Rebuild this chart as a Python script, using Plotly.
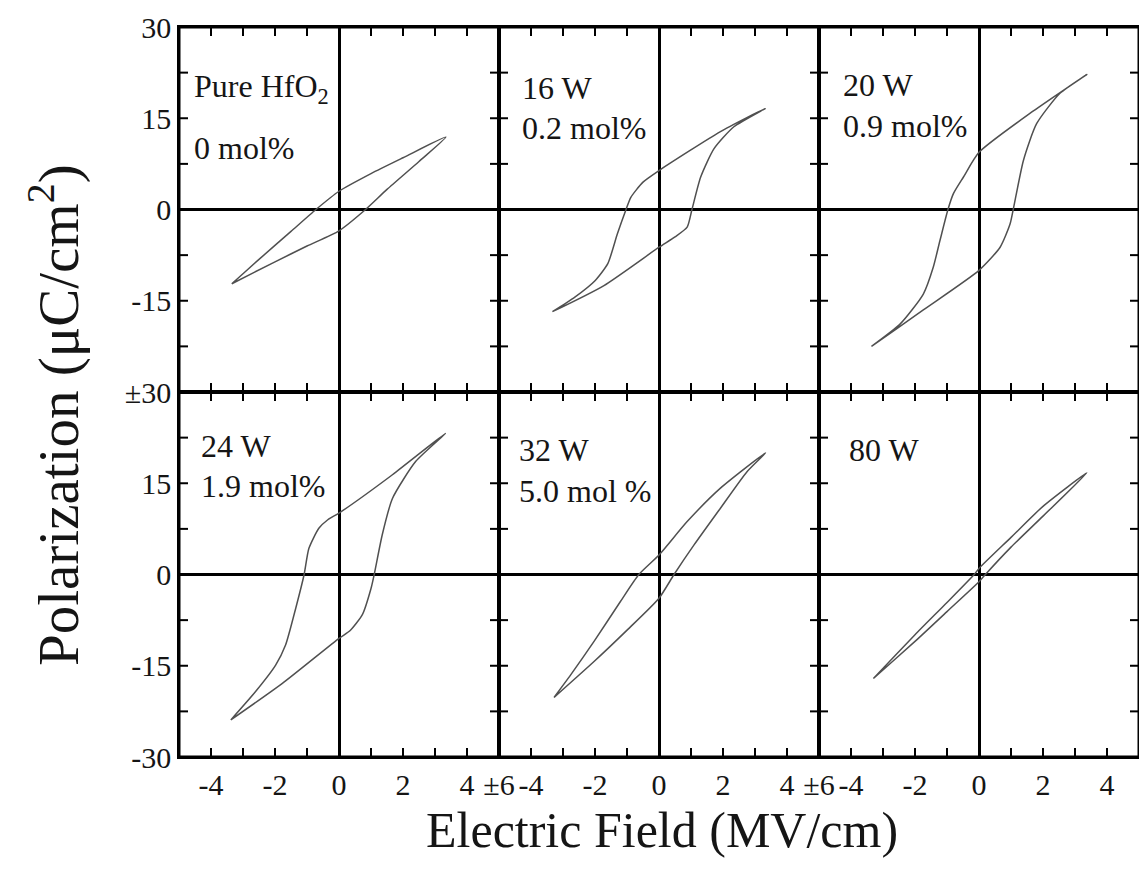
import plotly.graph_objects as go
from plotly.subplots import make_subplots

# ---------------- data ----------------
panel_labels = [
    ["Pure HfO<sub>2</sub>", "0 mol%"],
    ["16 W", "0.2 mol%"],
    ["20 W", "0.9 mol%"],
    ["24 W", "1.9 mol%"],
    ["32 W", "5.0 mol %"],
    ["80 W", ""],
]

# Upper branch (field sweeping down) and lower branch (field sweeping up)
p1_up_E = [3.34, 2.0, 1.0, 0.0, -0.72, -1.5, -2.5, -3.35]
p1_up_P = [11.9, 8.5, 5.9, 3.0, 0.0, -3.6, -8.2, -12.2]
p1_lo_E = [-3.35, -2.0, -1.0, 0.0, 0.83, 1.5, 2.5, 3.34]
p1_lo_P = [-12.2, -8.6, -6.0, -3.5, 0.0, 3.3, 7.9, 11.9]

p2_up_E = [3.32, 1.92, 0.0, -0.5, -0.88, -1.03, -1.3, -1.6, -2.0, -2.63, -3.33]
p2_up_P = [16.6, 12.8, 6.4, 4.5, 2.0, 0.0, -4.0, -8.9, -11.7, -14.4, -16.8]
p2_lo_E = [-3.33, -1.72, 0.0, 0.5, 0.88, 1.03, 1.3, 1.72, 2.34, 3.32]
p2_lo_P = [-16.8, -12.5, -6.2, -4.5, -2.9, 0.0, 5.3, 10.0, 13.6, 16.6]

p3_up_E = [3.37, 1.7, 0.0, -0.49, -0.8, -0.97, -1.22, -1.43, -1.74, -2.46, -3.36]
p3_up_P = [22.2, 16.2, 9.4, 5.3, 2.6, 0.0, -5.1, -9.5, -13.9, -18.8, -22.5]
p3_lo_E = [-3.36, -1.74, 0.0, 0.66, 0.97, 1.07, 1.39, 1.8, 2.53, 3.37]
p3_lo_P = [-22.5, -16.5, -10.0, -6.2, -2.4, 0.0, 8.1, 14.1, 19.1, 22.2]

p4_up_E = [3.33, 1.67, 0.0, -0.35, -0.63, -0.94, -1.09, -1.35, -1.67, -1.98, -2.6, -3.38]
p4_up_P = [23.2, 16.4, 10.1, 9.0, 7.6, 4.3, 0.0, -5.5, -11.6, -14.9, -19.2, -23.9]
p4_lo_E = [-3.38, -1.77, 0.0, 0.35, 0.73, 1.0, 1.1, 1.35, 1.67, 2.4, 3.33]
p4_lo_P = [-23.9, -17.9, -10.5, -9.2, -6.6, -2.3, 0.0, 6.5, 12.5, 18.6, 23.2]

p5_up_E = [3.33, 1.92, 0.88, 0.0, -0.63, -1.2, -2.03, -2.76, -3.28]
p5_up_P = [20.0, 14.2, 8.7, 3.2, 0.0, -4.4, -11.0, -16.5, -20.2]
p5_lo_E = [-3.28, -2.03, -0.99, 0.0, 0.47, 1.1, 1.92, 2.75, 3.33]
p5_lo_P = [-20.2, -14.3, -9.1, -3.9, 0.0, 4.9, 10.9, 16.9, 20.0]

p6_up_E = [3.37, 2.0, 1.0, 0.0, -0.15, -1.0, -2.0, -3.3]
p6_up_P = [16.7, 11.2, 6.1, 1.0, 0.0, -4.6, -9.9, -17.1]
p6_lo_E = [-3.3, -2.0, -1.0, 0.0, 0.2, 1.0, 2.0, 3.37]
p6_lo_P = [-17.1, -11.0, -6.1, -1.2, 0.0, 4.5, 9.6, 16.7]

loops = [
    (p1_up_E, p1_up_P, p1_lo_E, p1_lo_P),
    (p2_up_E, p2_up_P, p2_lo_E, p2_lo_P),
    (p3_up_E, p3_up_P, p3_lo_E, p3_lo_P),
    (p4_up_E, p4_up_P, p4_lo_E, p4_lo_P),
    (p5_up_E, p5_up_P, p5_lo_E, p5_lo_P),
    (p6_up_E, p6_up_P, p6_lo_E, p6_lo_P),
]

x_tickvals = [-4, -2, 0, 2, 4]
x_ticktext = ["-4", "-2", "0", "2", "4"]
x_tickmarks = [-4, -3, -2, -1, 1, 2, 3, 4]
y_tickvals = [-30, -15, 0, 15, 30]
top_y_ticktext = ["±30", "-15", "0", "15", "30"]
bot_y_ticktext = ["-30", "-15", "0", "15", ""]
y_tickmarks = [-22.5, -15, -7.5, 7.5, 15, 22.5]

# ---------------- layout helpers ----------------
W, H = 1139, 882
ML, MR, MT, MB = 179, 0, 27, 125
PW, PH = W - ML - MR, H - MT - MB
TICK_PX = 9


def px(x):
    return (x - ML) / PW


def py(y):
    return 1 - (y - MT) / PH


FONT = "Liberation Serif, Times New Roman, serif"
LINE_COL = "#505050"
TXT = "#151515"

fig = make_subplots(rows=2, cols=3, horizontal_spacing=0, vertical_spacing=0)

shapes = []
for i, (ue, up, le, lp) in enumerate(loops):
    r, c = i // 3 + 1, i % 3 + 1
    E = list(ue) + list(le)
    P = list(up) + list(lp)
    fig.add_trace(go.Scatter(x=E, y=P, mode="lines",
                             line=dict(color=LINE_COL, width=1.5, shape="spline", smoothing=0.6),
                             showlegend=False, hoverinfo="skip"), row=r, col=c)

    xt_vals = list(x_tickvals)
    xt_text = list(x_ticktext)
    if r == 2 and c < 3:
        xt_vals.append(5)
        xt_text.append("±6")
    fig.update_xaxes(range=[-5, 5], tickmode="array", tickvals=xt_vals, ticktext=xt_text,
                     showticklabels=(r == 2), ticks="",
                     showline=True, linecolor="black", linewidth=1.5, mirror=True,
                     showgrid=False, zeroline=True, zerolinecolor="black", zerolinewidth=2.5,
                     automargin=False,
                     tickfont=dict(family=FONT, size=30, color=TXT),
                     row=r, col=c)
    fig.update_yaxes(range=[-30, 30], tickmode="array", tickvals=y_tickvals,
                     ticktext=top_y_ticktext if r == 1 else bot_y_ticktext,
                     showticklabels=(c == 1), ticks="",
                     showline=True, linecolor="black", linewidth=1.5, mirror=True,
                     showgrid=False, zeroline=True, zerolinecolor="black", zerolinewidth=2.5,
                     automargin=False,
                     tickfont=dict(family=FONT, size=30, color=TXT),
                     row=r, col=c)

    # inward tick marks on all four sides, positioned through the axis scales
    k = i + 1
    xr = "x" if k == 1 else f"x{k}"
    yr = "y" if k == 1 else f"y{k}"
    dx = TICK_PX / (PW / 3)
    dy = TICK_PX / (PH / 2)
    for v in x_tickmarks:
        for y0, y1 in ((0, dy), (1, 1 - dy)):
            shapes.append(dict(type="line", xref=xr, yref=f"{yr} domain", x0=v, x1=v, y0=y0, y1=y1,
                               line=dict(color="black", width=2), layer="above"))
    for v in y_tickmarks:
        for x0, x1 in ((0, dx), (1, 1 - dx)):
            shapes.append(dict(type="line", xref=f"{xr} domain", yref=yr, x0=x0, x1=x1, y0=v, y1=v,
                               line=dict(color="black", width=2), layer="above"))

annotations = []
label_pos = [
    (192, 88, 148),
    (520, 88, 128),
    (841, 85, 126),
    (199, 446, 486),
    (517, 450, 491),
    (847, 450, 490),
]
for (lx, y1, y2), (t1, t2) in zip(label_pos, panel_labels):
    annotations.append(dict(x=px(lx), y=py(y1), xref="paper", yref="paper", text=t1, showarrow=False,
                            xanchor="left", yanchor="middle", font=dict(family=FONT, size=32, color=TXT)))
    if t2:
        annotations.append(dict(x=px(lx), y=py(y2), xref="paper", yref="paper", text=t2, showarrow=False,
                                xanchor="left", yanchor="middle", font=dict(family=FONT, size=32, color=TXT)))

annotations.append(dict(x=px(662), y=py(830), xref="paper", yref="paper", text="Electric Field (MV/cm)",
                        showarrow=False, xanchor="center", yanchor="middle",
                        font=dict(family=FONT, size=50, color=TXT)))
annotations.append(dict(x=px(54), y=py(415), xref="paper", yref="paper", text="Polarization (μC/cm<sup>2</sup>)",
                        showarrow=False, xanchor="center", yanchor="middle", textangle=-90,
                        font=dict(family=FONT, size=57, color=TXT)))

shapes.append(dict(type="rect", xref="paper", yref="paper", x0=0, x1=1, y0=0, y1=1,
                   line=dict(color="black", width=3), fillcolor="rgba(0,0,0,0)", layer="above"))

fig.update_layout(template="none", width=W, height=H,
                  margin=dict(l=ML, r=MR, t=MT, b=MB, autoexpand=False),
                  paper_bgcolor="white", plot_bgcolor="rgba(0,0,0,0)", annotations=annotations,
                  shapes=shapes, showlegend=False)

fig.write_html("out.html", config={"responsive": False})
